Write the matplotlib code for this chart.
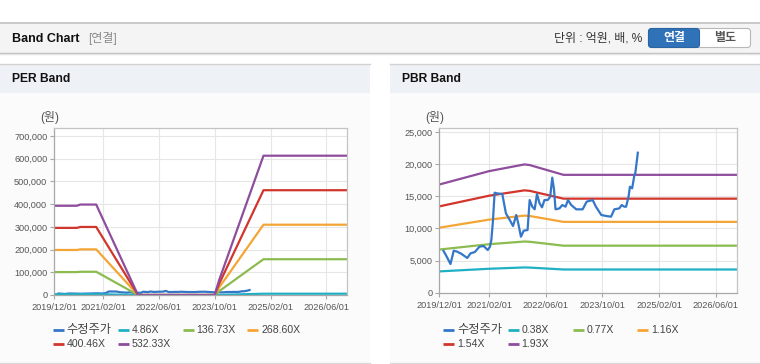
import matplotlib
matplotlib.use("Agg")
import matplotlib.pyplot as plt
import matplotlib.dates as mdates
from matplotlib.patches import Rectangle, FancyBboxPatch
from matplotlib.ticker import FuncFormatter, FixedLocator
import numpy as np
import pandas as pd

plt.rcParams['font.family'] = ['Liberation Sans', 'Noto Sans CJK KR', 'DejaVu Sans']

# ---------------- data ----------------
price_dates = ['2020-01-06', '2020-02-03', '2020-03-06', '2020-04-03', '2020-05-01', '2020-06-10',
               '2020-07-28', '2020-08-25', '2020-10-01', '2020-11-10', '2020-12-15', '2021-01-20',
               '2021-02-08', '2021-02-20', '2021-03-05', '2021-03-20', '2021-04-10', '2021-05-25',
               '2021-06-25', '2021-07-28', '2021-08-25', '2021-09-22', '2021-10-10', '2021-11-01',
               '2021-11-25', '2021-12-28', '2022-01-15', '2022-02-06', '2022-02-27', '2022-03-19',
               '2022-04-10', '2022-05-01', '2022-05-22', '2022-06-19', '2022-07-10', '2022-07-28',
               '2022-08-12', '2022-08-25', '2022-09-28', '2022-10-22', '2022-11-19', '2022-12-10',
               '2023-01-07', '2023-02-19', '2023-04-15', '2023-05-19', '2023-07-10', '2023-08-07',
               '2023-09-22', '2023-11-04', '2023-12-15', '2024-01-12', '2024-02-24', '2024-03-15',
               '2024-04-07', '2024-04-22', '2024-05-13', '2024-05-25', '2024-06-13', '2024-07-01',
               '2024-07-10', '2024-08-01']
price_values = [6500, 5600, 4460, 6540, 6400, 6020,
                5400, 6120, 6330, 7160, 7260, 6640,
                7160, 8200, 11000, 15560, 15450, 15350,
                12350, 11310, 10370, 12090, 10700, 8710,
                9650, 9750, 14420, 13400, 12970, 15350,
                13900, 13280, 14420, 14420, 14900, 17900,
                16080, 12970, 13120, 13640, 13380, 14420,
                13640, 12970, 12970, 14160, 14420, 13380,
                12090, 11930, 11830, 12970, 13120, 13640,
                13380, 13380, 14940, 16490, 16240, 18150,
                18580, 21780]

# PER band: EPS base
per_dates = ['2019-12-01', '2020-06-15', '2020-07-15', '2020-12-01', '2021-12-01',
             '2023-10-01', '2023-11-10', '2024-12-01', '2026-12-01']
per_eps = [738, 738, 748, 748, 0, 0, 124, 1152, 1152]
per_multiples = [4.86, 136.73, 268.60, 400.46, 532.33]
per_labels = ['4.86X', '136.73X', '268.60X', '400.46X', '532.33X']

# PBR band: BPS base
pbr_dates = ['2019-12-01', '2021-02-01', '2021-12-01', '2022-01-15', '2022-11-01', '2026-12-01']
pbr_bps = [8720, 9800, 10340, 10290, 9500, 9500]
pbr_multiples = [0.38, 0.77, 1.16, 1.54, 1.93]
pbr_labels = ['0.38X', '0.77X', '1.16X', '1.54X', '1.93X']

price_label = '수정주가'
x_ticks = ['2019/12/01', '2021/02/01', '2022/06/01', '2023/10/01', '2025/02/01', '2026/06/01']

price_color = '#3477c9'
band_colors = ['#1fb0c4', '#8cbb50', '#f4a535', '#d1352c', '#8f4d9d']

# ---------------- figure ----------------
W, H = 760, 364
fig = plt.figure(figsize=(W / 100, H / 100), dpi=100)
fig.patch.set_facecolor('white')

bg = fig.add_axes([0, 0, 1, 1], zorder=0)
bg.set_xlim(0, W)
bg.set_ylim(H, 0)
bg.axis('off')

# top header bar
bg.add_patch(Rectangle((0, 22), W, 31, facecolor='#f4f4f4', edgecolor='none'))
bg.plot([0, W], [22.5, 22.5], color='#c2c2c2', lw=1.2)
bg.plot([0, W], [52.5, 52.5], color='#bdbdbd', lw=1.0)
bg.plot([0, W], [53.6, 53.6], color='#e4e4e4', lw=1.0)
bg.text(12, 38.5, 'Band Chart', fontsize=9, fontweight='bold', color='#111', va='center', ha='left')
bg.text(88, 38.5, '[연결]', fontsize=8.6, color='#8a8a8a', va='center', ha='left')
bg.text(642, 38.5, '단위 : 억원, 배, %', fontsize=8.6, color='#333', va='center', ha='right')
bg.add_patch(FancyBboxPatch((648.5, 28.5), 102, 19, boxstyle='round,pad=0,rounding_size=3',
                            facecolor='white', edgecolor='#b8b8b8', lw=0.8))
bg.add_patch(FancyBboxPatch((648.5, 28.5), 51, 19, boxstyle='round,pad=0,rounding_size=3',
                            facecolor='#2f72b8', edgecolor='#2a64a3', lw=0.8))
bg.text(674, 38.2, '연결', fontsize=8.6, fontweight='bold', color='white', va='center', ha='center')
bg.text(725, 38.2, '별도', fontsize=8.6, fontweight='bold', color='#555', va='center', ha='center')

panels = [(0, 370, 'PER Band', 12), (390, 760, 'PBR Band', 401.5)]
for x0, x1, title, tx in panels:
    bg.add_patch(Rectangle((x0, 93), x1 - x0, 269, facecolor='#fbfbfb', edgecolor='none'))
    bg.add_patch(Rectangle((x0, 64), x1 - x0, 29, facecolor='#eef1f6', edgecolor='none'))
    bg.plot([x0, x1], [63.7, 63.7], color='#d2d2d2', lw=1.0)
    bg.plot([x0, x1], [362.5, 362.5], color='#d8d8d8', lw=1.0)
    bg.text(tx, 79.5, title, fontsize=8.7, fontweight='bold', color='#111', va='center', ha='left')

xmin = pd.Timestamp('2019-12-01')
xmax = pd.Timestamp('2026-12-03')
tick_dates = [pd.Timestamp(t.replace('/', '-')) for t in x_ticks]


def style_axes(ax, ymax, yticks):
    ax.set_facecolor('white')
    ax.set_xlim(xmin, xmax)
    ax.set_ylim(0, ymax)
    ax.xaxis.set_major_locator(FixedLocator(mdates.date2num(tick_dates)))
    ax.set_xticklabels(x_ticks)
    ax.set_yticks(yticks)
    ax.yaxis.set_major_formatter(FuncFormatter(lambda v, p: f'{v:,.0f}'))
    ax.grid(True, color='#e6e6e6', lw=0.8)
    ax.set_axisbelow(True)
    for s in ['top', 'right']:
        ax.spines[s].set_color('#c4c4c4')
        ax.spines[s].set_linewidth(0.9)
    for s in ['left', 'bottom']:
        ax.spines[s].set_color('#a8a8a8')
        ax.spines[s].set_linewidth(0.9)
    ax.tick_params(axis='both', labelsize=6.6, labelcolor='#555', color='#a8a8a8',
                   length=3, width=0.8, pad=2)
    ax.tick_params(axis='x', pad=3)


def draw_legend(x_cols, labels, colors):
    positions = [(0, 0), (1, 0), (2, 0), (3, 0), (0, 1), (1, 1)]
    rows_y = [330, 344]
    for (c, r), lab, col in zip(positions, labels, colors):
        x = x_cols[c]
        y = rows_y[r]
        bg.plot([x, x + 11], [y, y], color=col, lw=2.0, solid_capstyle='butt')
        fs = 8.8 if lab == price_label else 7.6
        bg.text(x + 14, y, lab, fontsize=fs, color='#444', va='center', ha='left')


# PER panel
ax1 = fig.add_axes([54.3 / W, (H - 295) / H, 293 / W, 166.7 / H], zorder=2)
pd_per = pd.to_datetime(per_dates)
pd_price = pd.to_datetime(price_dates)
ax1.plot(pd_price, price_values, color=price_color, lw=1.6)
for m, c in zip(per_multiples, band_colors):
    ax1.plot(pd_per, np.array(per_eps) * m, color=c, lw=1.6, solid_joinstyle='round')
style_axes(ax1, 733900, [0, 100000, 200000, 300000, 400000, 500000, 600000, 700000])
bg.text(50, 117.5, '(원)', fontsize=8.6, color='#555', va='center', ha='center')
draw_legend([52.7, 118, 182.7, 247.3], [price_label] + per_labels, [price_color] + band_colors)

# PBR panel
ax2 = fig.add_axes([439.3 / W, (H - 292.7) / H, 298 / W, 164.4 / H], zorder=2)
pd_pbr = pd.to_datetime(pbr_dates)
for m, c in zip(pbr_multiples, band_colors):
    ax2.plot(pd_pbr, np.array(pbr_bps) * m, color=c, lw=1.6, solid_joinstyle='round')
ax2.plot(pd_price, price_values, color=price_color, lw=1.6, zorder=3)
style_axes(ax2, 25576, [0, 5000, 10000, 15000, 20000, 25000])
bg.text(435, 117.5, '(원)', fontsize=8.6, color='#555', va='center', ha='center')
draw_legend([443.3, 507.7, 572.7, 637.3], [price_label] + pbr_labels, [price_color] + band_colors)

fig.savefig('out.png', dpi=100, facecolor=fig.get_facecolor())
